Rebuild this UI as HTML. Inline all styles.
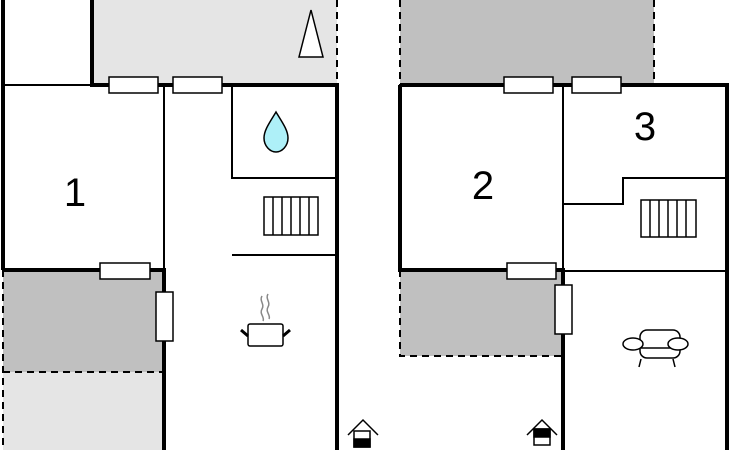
<!DOCTYPE html>
<html><head><meta charset="utf-8"><style>html,body{margin:0;padding:0;background:#fff}svg{display:block}</style></head><body>
<svg width="730" height="450" viewBox="0 0 730 450" xmlns="http://www.w3.org/2000/svg" font-family="Liberation Sans, sans-serif">
<!-- fills -->
<rect x="92" y="0" width="245" height="85" fill="#e5e5e5"/>
<rect x="3" y="270" width="161" height="102" fill="#c0c0c0"/>
<rect x="3" y="372" width="161" height="78" fill="#e5e5e5"/>
<rect x="400" y="0" width="254" height="85" fill="#c0c0c0"/>
<rect x="400" y="270" width="163" height="86" fill="#c0c0c0"/>
<g stroke="#000" fill="none">
<!-- left building thick -->
<path d="M3 0V270M92 0V85H337V450M3 270H164V450M400 85V270H563V450M400 85H727V450" stroke-width="4"/>
<!-- dashed -->
<path d="M337 0V85M3 270V450M3 372H164M400 0V85M654 0V85M400 270V356H563" stroke-width="2" stroke-dasharray="7,5"/>
<!-- thin -->
<path d="M3 85H92M164 85V270M232 85V178H337M232 255H337M563 85V270M563 204H623V178H727M563 271H727" stroke-width="2"/>
</g>
<!-- windows -->
<g fill="#fff" stroke="#000" stroke-width="1.5">
<rect x="109" y="77" width="49" height="16"/>
<rect x="173" y="77" width="49" height="16"/>
<rect x="100" y="263" width="50" height="16"/>
<rect x="156" y="292" width="17" height="49"/>
<rect x="504" y="77" width="49" height="16"/>
<rect x="572" y="77" width="49" height="16"/>
<rect x="507" y="263" width="49" height="16"/>
<rect x="555" y="285" width="17" height="49"/>
</g>
<!-- tree -->
<polygon points="311,10 299,57 323,57" fill="#fff" stroke="#000" stroke-width="1.5"/>
<!-- drop -->
<path d="M276 112 C270 122 264 130 264 138 C264 146 270 152 276 152 C282 152 288 146 288 138 C288 130 282 122 276 112Z" fill="#aef0f8" stroke="#000" stroke-width="1.5"/>
<!-- stairs -->
<g fill="#fff" stroke="#000" stroke-width="1.5">
<rect x="264" y="197" width="54" height="38"/>
<path d="M273 197V235M282 197V235M291 197V235M300 197V235M309 197V235"/>
<rect x="641" y="200" width="55" height="37"/>
<path d="M650 200V237M659 200V237M668 200V237M677 200V237M686 200V237"/>
</g>
<!-- pot -->
<g stroke="#000" fill="#fff">
<rect x="248" y="324" width="35" height="22" rx="2" stroke-width="1.5"/>
<path d="M241 330L248 336M290 330L283 336" stroke-width="3"/>
<path d="M262 296c-3 5 3 8 0 13s3 8 1 12M268 294c-3 5 3 8 0 13s3 8 1 12" stroke="#888" fill="none" stroke-width="1.5"/>
</g>
<!-- sofa -->
<g stroke="#000" fill="#fff" stroke-width="1.5">
<rect x="640" y="330" width="40" height="28" rx="7"/>
<path d="M641 348H680"/>
<ellipse cx="633" cy="344" rx="10" ry="6"/>
<ellipse cx="678" cy="344" rx="10" ry="6"/>
<path d="M641 359L639 367M673 359L675 367"/>
</g>
<!-- entrances -->
<g stroke="#000" stroke-width="1.5" fill="#fff">
<path d="M348 435L363 420L378 435" fill="none"/>
<rect x="354" y="431" width="16" height="16"/>
<rect x="354" y="439" width="16" height="8" fill="#000"/>
<path d="M527 435L542 420L557 435" fill="none"/>
<rect x="534" y="429" width="16" height="16"/>
<rect x="534" y="429" width="16" height="8" fill="#000"/>
</g>
<!-- labels -->
<g font-size="40" text-anchor="middle" fill="#000">
<text x="75" y="206">1</text>
<text x="483" y="199">2</text>
<text x="645" y="140">3</text>
</g>
</svg>
</body></html>
